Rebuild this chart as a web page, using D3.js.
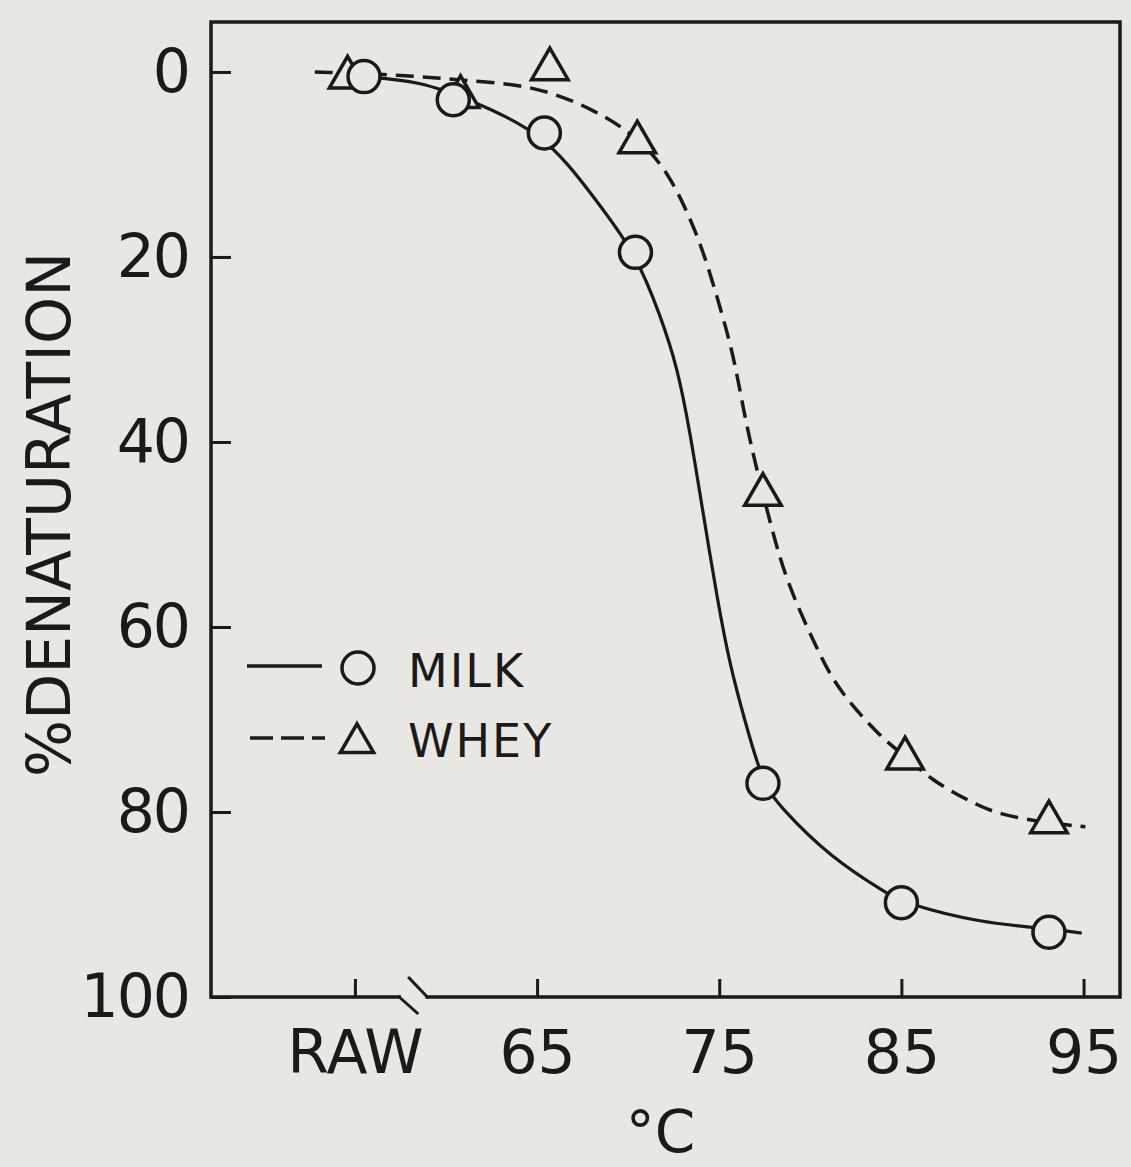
<!DOCTYPE html>
<html>
<head>
<meta charset="utf-8">
<script src="https://cdn.jsdelivr.net/npm/d3@7"></script>
<style>
  body { margin: 0; background: #e9e7e2; }
  text { font-family: "DejaVu Sans", sans-serif; fill: #1a1a1a; }
</style>
</head>
<body>
<div id="graph"></div>
<script>
// values (temperature in deg C, % denaturation)
// RAW is placed at the 55 position of the temperature scale
var milkTemps  = [55.5, 60.4, 65.4, 70.4, 77.4, 85.0, 93.1];
var milkValues = [0.5, 3.0, 6.6, 19.5, 76.9, 89.8, 93.0];

var wheyTemps  = [54.6, 60.8, 65.7, 70.5, 77.4, 85.2, 93.1];
var wheyValues = [0.6, 2.7, -0.3, 7.6, 45.7, 74.2, 81.1];

// hand drawn fitted curves
var milkCurveTemps  = [55.4, 58.6, 61.3, 65.4, 68.1, 70.4, 71.8, 72.7, 73.4, 74.0, 74.9, 75.6, 76.5, 77.4, 78.35, 81.1, 84.2, 85.1, 89.3, 93.1, 94.9];
var milkCurveValues = [0.5, 1.0, 3.0, 6.6, 13.5, 19.5, 26.5, 31.9, 39.0, 46.3, 57.1, 64.3, 70.8, 76.9, 79.5, 84.9, 88.8, 89.8, 92.0, 92.6, 93.1];

var wheyCurveTemps  = [52.8, 57.5, 60.8, 64.8, 68.1, 70.5, 72.1, 73.2, 74.1, 75.05, 75.8, 76.3, 76.8, 77.8, 78.7, 80.4, 81.5, 84.0, 85.2, 86.6, 88.6, 90.3, 93.1, 95.1];
var wheyCurveValues = [0.0, 0.3, 0.9, 1.4, 4.0, 7.0, 10.6, 14.9, 19.2, 25.4, 30.8, 36.2, 40.9, 48.8, 55.2, 62.5, 66.8, 72.2, 73.9, 76.5, 78.7, 80.3, 81.2, 81.6];

var yTicks = [0, 20, 40, 60, 80, 100];
var xTicks = [55, 65, 75, 85, 95];
var xTickLabels = ["RAW", "65", "75", "85", "95"];

var seriesNames = ["MILK", "WHEY"];

var graphWidth = 1131;
var graphHeight = 1167;
var bg = "#e9e7e2";
var ink = "#1a1a1a";

// plot frame (note: "top" is taken by window.top, so prefix these)
var plotLeft = 211, plotRight = 1120, plotTop = 22, plotBottom = 997;

var x = d3.scaleLinear()
    .domain([47.1, 97.0])
    .range([plotLeft, plotRight]);

var y = d3.scaleLinear()
    .domain([-5.4, 100])
    .range([plotTop, plotBottom]);

var svg = d3.select("#graph")
    .append("svg")
    .attr("width", graphWidth)
    .attr("height", graphHeight);

svg.append("rect")
    .attr("width", graphWidth)
    .attr("height", graphHeight)
    .attr("fill", bg);

// **** axes ****
var yAxis = d3.axisLeft(y)
    .tickValues(yTicks)
    .tickSizeInner(-20)
    .tickSizeOuter(0)
    .tickPadding(22);

var yAxisArea = svg.append("g")
    .attr("transform", "translate(" + plotLeft + ",0)")
    .call(yAxis);

var xAxis = d3.axisBottom(x)
    .tickValues(xTicks)
    .tickSizeInner(-18)
    .tickSizeOuter(0)
    .tickPadding(33)
    .tickFormat(function(d, i) { return xTickLabels[i]; });

var xAxisArea = svg.append("g")
    .attr("transform", "translate(0," + plotBottom + ")")
    .call(xAxis);

[yAxisArea, xAxisArea].forEach(function(a) {
  a.select(".domain").remove();
  a.selectAll(".tick line").attr("stroke", ink).attr("stroke-width", 3);
  a.selectAll(".tick text")
    .style("font-size", "60px")
    .attr("fill", ink);
});
yAxisArea.selectAll(".tick text").attr("letter-spacing", "-2px");

// frame, with the break in the bottom axis between RAW and 65
var breakX = x(58.2);
var frame = svg.append("g")
    .attr("stroke", ink)
    .attr("stroke-width", 3.5)
    .attr("fill", "none")
    .attr("stroke-linecap", "square");

frame.append("path")
    .attr("d", "M" + (breakX + 14) + "," + plotBottom + "H" + plotRight + "V" + plotTop + "H" + plotLeft + "V" + plotBottom + "H" + (breakX - 14));
frame.append("line")
    .attr("x1", breakX - 14).attr("y1", plotBottom)
    .attr("x2", breakX + 4).attr("y2", plotBottom + 16)
    .attr("stroke-width", 3);
frame.append("line")
    .attr("x1", breakX - 4).attr("y1", plotBottom - 19)
    .attr("x2", breakX + 14).attr("y2", plotBottom)
    .attr("stroke-width", 3);

// axis titles
svg.append("text")
    .attr("transform", "translate(70," + ((plotTop + plotBottom) / 2 + 5) + ") rotate(-90)")
    .attr("text-anchor", "middle")
    .style("font-size", "60px")
    .text("%DENATURATION");

svg.append("text")
    .attr("x", (plotLeft + plotRight) / 2 - 5)
    .attr("y", 1152)
    .attr("text-anchor", "middle")
    .style("font-size", "58px")
    .text("\u00B0C");

// **** curves ****
var curveLine = d3.line()
    .x(function(d) { return x(d[0]); })
    .y(function(d) { return y(d[1]); })
    .curve(d3.curveBasis);

var milkCurve = d3.zip(milkCurveTemps, milkCurveValues);
var wheyCurve = d3.zip(wheyCurveTemps, wheyCurveValues);

svg.append("path")
    .datum(wheyCurve)
    .attr("fill", "none")
    .attr("stroke", ink)
    .attr("stroke-width", 3.5)
    .attr("stroke-dasharray", "18,9")
    .attr("d", curveLine);

svg.append("path")
    .datum(milkCurve)
    .attr("fill", "none")
    .attr("stroke", ink)
    .attr("stroke-width", 3.2)
    .attr("d", curveLine);

// **** markers ****
var tri = d3.symbol().type(d3.symbolTriangle).size(580);

svg.append("g")
  .selectAll("path")
  .data(d3.zip(wheyTemps, wheyValues))
  .join("path")
    .attr("transform", function(d) { return "translate(" + x(d[0]) + "," + y(d[1]) + ")"; })
    .attr("d", tri)
    .attr("fill", bg)
    .attr("stroke", ink)
    .attr("stroke-width", 3.5)
    .attr("stroke-linejoin", "miter");

svg.append("g")
  .selectAll("circle")
  .data(d3.zip(milkTemps, milkValues))
  .join("circle")
    .attr("cx", function(d) { return x(d[0]); })
    .attr("cy", function(d) { return y(d[1]); })
    .attr("r", 16)
    .attr("fill", bg)
    .attr("stroke", ink)
    .attr("stroke-width", 3.5);

// **** legend ****
var legend = svg.append("g").attr("transform", "translate(247,666)");

legend.append("line")
    .attr("x1", 0).attr("x2", 75)
    .attr("y1", 0).attr("y2", 0)
    .attr("stroke", ink).attr("stroke-width", 3.5);
legend.append("circle")
    .attr("cx", 111).attr("cy", 2).attr("r", 16)
    .attr("fill", bg).attr("stroke", ink).attr("stroke-width", 3.5);

legend.append("line")
    .attr("x1", 3).attr("x2", 78)
    .attr("y1", 72).attr("y2", 72)
    .attr("stroke", ink).attr("stroke-width", 3.5)
    .attr("stroke-dasharray", "23,8");
legend.append("path")
    .attr("transform", "translate(110,77)")
    .attr("d", d3.symbol().type(d3.symbolTriangle).size(480))
    .attr("fill", bg).attr("stroke", ink).attr("stroke-width", 3.5);

legend.selectAll("text.name")
  .data(seriesNames)
  .join("text")
    .attr("class", "name")
    .attr("x", 161)
    .attr("y", function(d, i) { return 21 + i * 70; })
    .style("font-size", "46px")
    .attr("letter-spacing", "2px")
    .text(function(d) { return d; });
</script>
</body>
</html>
